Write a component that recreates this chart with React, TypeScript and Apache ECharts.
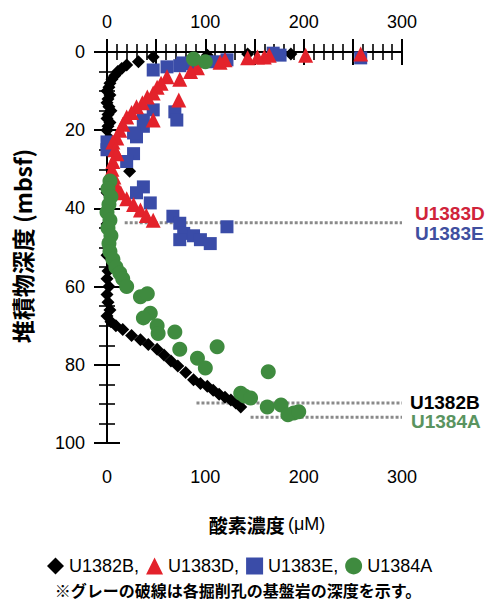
import React, { useEffect, useRef } from "react";
import * as echarts from "echarts";

// ---- data: [oxygen (µM), depth (mbsf)] ----
const u1382B: number[][] = [
  [187, 0.5], [143, 0.5], [102, 0.8], [47, 1.3], [32, 2.5], [20, 3.3], [15, 4.2], [11, 5], [8, 6], [5, 7],
  [3, 8], [2, 9], [0, 10], [3, 11], [1, 12], [0, 13], [2, 14], [4, 15], [1, 16], [0, 17], [3, 18], [1, 19],
  [0, 20], [2, 22], [23, 30.5], [0, 36], [1, 40], [0, 44], [2, 48], [0, 52],
  [1, 56], [0, 58], [2, 60], [0, 62], [1, 64], [3, 66], [0, 67.5], [4, 69], [9, 70], [16, 71], [25, 72.5],
  [34, 73.6], [42, 74.8], [51, 76], [58, 77.5], [65, 79], [72, 80.3], [80, 82], [88, 83.8], [95, 84.8],
  [102, 85.5], [108, 86.5], [114, 87.5], [120, 88.3], [126, 89], [131, 89.8], [136, 90.8],
];
const u1383D: number[][] = [
  [258, 0.5], [202, 0.8], [165, 0.8], [160, 1.3], [153, 1.3], [143, 1.5], [120, 2], [115, 2.6], [92, 4],
  [85, 5], [74, 7], [61, 6.3], [55, 8], [51, 9], [73, 12.3], [47, 10.5], [41, 11.5], [36, 13], [30, 14],
  [25, 15.5], [20, 16.6], [47, 17.4], [16, 18.5], [13, 20], [10, 22], [6, 23], [8, 25], [10, 26], [6, 28],
  [5, 30], [7, 32], [10, 34.5], [14, 36], [20, 37.5], [27, 39], [34, 40.4], [40, 41.8], [47, 43],
];
const u1383E: number[][] = [
  [258, 1.5], [169, 0.3], [176, 0.8], [122, 2], [110, 2.5], [85, 3], [77, 2.8], [74, 3.5], [61, 3.8],
  [47, 4.6], [69, 15.3], [71, 17.4], [47, 14.8], [37, 17.4], [37, 19], [30, 21.7], [27, 20.7], [0, 23],
  [0, 25], [27, 26], [20, 28], [37, 34.5], [30, 36], [44, 38.6], [67, 42], [74, 43.8], [78, 46.4],
  [88, 47], [95, 48], [105, 49], [122, 44.7], [74, 48],
];
const u1384A: number[][] = [
  [100, 2.5], [88, 1.8], [3, 33], [1, 35], [4, 37], [2, 39], [0, 41], [3, 43], [1, 45], [4, 47], [2, 49],
  [3, 51], [6, 53], [9, 55], [13, 56.5], [16, 58], [20, 60], [34, 62.6], [41, 61.8], [44, 66.8], [37, 68],
  [51, 70], [69, 71.6], [52, 72], [74, 76], [112, 75.4], [92, 78.3], [100, 80.8], [164, 81.8], [136, 87.3],
  [140, 88], [146, 88.5], [163, 90.8], [177, 90.3], [190, 92.3], [184, 92.8], [195, 92],
];
// basement depth lines: [start oxygen, depth]
const basementU1383 = [[18, 43.7], [300, 43.7]];
const basementU1382B = [[91, 89.8], [300, 89.8]];
const basementU1384A = [[146, 93.4], [300, 93.4]];

const xTickLabels = [0, 100, 200, 300];
const yTickLabels = [0, 20, 40, 60, 80, 100];
const seriesNames = ["U1382B", "U1383D", "U1383E", "U1384A"];

const FONT = "'Liberation Sans', Arial, 'Noto Sans CJK JP', sans-serif";
const CJK = "'Noto Sans CJK JP', 'Liberation Sans', sans-serif";

const BLACK = "#000000";
const RED = "#e3222b";
const BLUE = "#3a4ca8";
const GREEN = "#3f8b3f";

export default function App() {
  const ref = useRef<HTMLDivElement>(null);
  useEffect(() => {
    if (!ref.current) return;
    const chart = echarts.init(ref.current, undefined, { renderer: "svg" });
    const axisLine = { show: true, lineStyle: { color: "#000", width: 2 } };
    const baseX = (position: string, inside: boolean, labels: boolean, margin: number) => ({
      type: "value",
      position,
      min: 0,
      max: 300,
      interval: 50,
      axisLine,
      axisTick: { show: true, inside, length: inside ? 13 : 11, lineStyle: { color: "#000", width: 2 } },
      minorTick: { show: !inside, splitNumber: 5, length: 8, lineStyle: { color: "#000", width: 1.6 } },
      splitLine: { show: false },
      minorSplitLine: { show: false },
      axisLabel: {
        show: labels,
        margin,
        fontSize: 18,
        color: "#000",
        fontFamily: FONT,
        formatter: (v: number) => (xTickLabels.includes(v) ? String(v) : ""),
      },
    });
    const baseY = (position: string, inside: boolean, labels: boolean) => ({
      type: "value",
      position,
      inverse: true,
      min: 0,
      max: 100,
      interval: 20,
      axisLine,
      axisTick: { show: true, inside, length: inside ? 13 : 12, lineStyle: { color: "#000", width: 2 } },
      minorTick: { show: !inside, splitNumber: 4, length: 8, lineStyle: { color: "#000", width: 1.6 } },
      splitLine: { show: false },
      minorSplitLine: { show: false },
      axisLabel: {
        show: labels,
        margin: 22,
        fontSize: 18,
        color: "#000",
        fontFamily: FONT,
        formatter: (v: number) => (yTickLabels.includes(v) ? String(v) : ""),
      },
    });
    const dotted = (data: number[][]) => ({
      type: "line",
      data,
      xAxisIndex: 0,
      yAxisIndex: 0,
      symbol: "none",
      silent: true,
      z: 1,
      lineStyle: { color: "#8a8a8a", width: 3, type: [3, 2] },
    });
    const scatter = (name: string, data: number[][], symbol: string, size: number, color: string, z: number) => ({
      type: "scatter",
      name,
      data,
      symbol,
      symbolSize: size,
      xAxisIndex: 0,
      yAxisIndex: 0,
      clip: false,
      z,
      itemStyle: { color, opacity: 1 },
    });
    const sideLabel = (text: string, x: number, y: number, fill: string) => ({
      type: "text",
      x,
      y,
      style: { text, font: `bold 19px ${FONT}`, lineHeight: 17, fill, verticalAlign: "middle" },
    });
    chart.setOption({
      animation: false,
      backgroundColor: "#fff",
      grid: { left: 107, right: 95, top: 52, bottom: 158, containLabel: false },
      xAxis: [
        baseX("bottom", false, true, 25),
        baseX("bottom", true, false, 8),
        baseX("top", false, true, 21),
        baseX("top", true, false, 8),
      ],
      yAxis: [baseY("left", false, true), baseY("left", true, false), baseY("right", false, false), baseY("right", true, false)],
      legend: {
        left: 47,
        top: 557,
        itemWidth: 17,
        itemHeight: 17,
        itemGap: 7,
        padding: 0,
        data: seriesNames,
        textStyle: { fontSize: 18, lineHeight: 18, color: "#000", fontFamily: FONT },
        formatter: (n: string) => (n === seriesNames[seriesNames.length - 1] ? n : n + ","),
      },
      series: [
        dotted(basementU1383),
        dotted(basementU1382B),
        dotted(basementU1384A),
        scatter(seriesNames[0], u1382B, "diamond", 13, BLACK, 2),
        scatter(seriesNames[2], u1383E, "rect", 13, BLUE, 3),
        scatter(seriesNames[1], u1383D, "triangle", 15, RED, 4),
        scatter(seriesNames[3], u1384A, "circle", 15, GREEN, 5),
      ],
      graphic: [
        {
          type: "text",
          x: 22,
          y: 246,
          rotation: Math.PI / 2,
          style: {
            text: "堆積物深度 (mbsf)",
            font: `bold 23px ${CJK}`,
            fill: "#000",
            align: "center",
            verticalAlign: "middle",
          },
        },
        {
          type: "text",
          x: 267,
          y: 524,
          style: {
            text: "{b|酸素濃度} {r|(μM)}",
            fill: "#000",
            align: "center",
            verticalAlign: "middle",
            rich: {
              b: { fontSize: 19, fontWeight: "bold", fontFamily: CJK, fill: "#000" },
              r: { fontSize: 18, fontFamily: FONT, fill: "#000" },
            },
          },
        },
        {
          type: "text",
          x: 238,
          y: 590,
          style: {
            text: "※グレーの破線は各掘削孔の基盤岩の深度を示す。",
            font: `bold 16px ${CJK}`,
            lineHeight: 16,
            fill: "#000",
            align: "center",
            verticalAlign: "middle",
          },
        },
        sideLabel("U1383D", 415, 213, "#d0243a"),
        sideLabel("U1383E", 415, 233, "#3f4f9f"),
        sideLabel("U1382B", 410, 402, "#000"),
        sideLabel("U1384A", 411, 421, "#5a9460"),
      ],
    });
    return () => chart.dispose();
  }, []);
  return <div ref={ref} style={{ position: "fixed", left: 0, top: 0, width: 497, height: 601 }} />;
}
